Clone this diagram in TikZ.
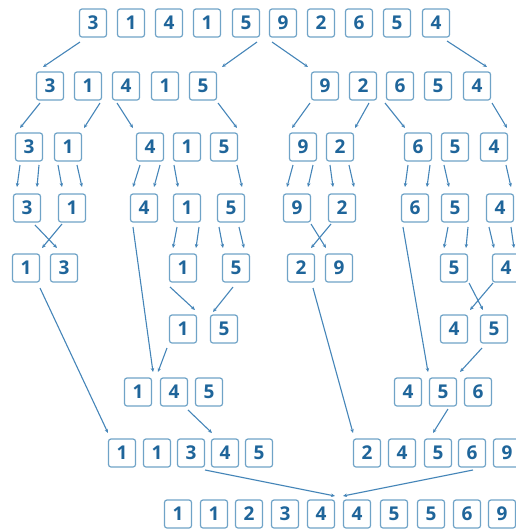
\documentclass[tikz,border=0pt]{standalone}
\usepackage{fontspec}
\setmainfont{Open Sans}[BoldFont={Open Sans Bold}]
\usetikzlibrary{arrows.meta}
\definecolor{txtc}{HTML}{1F659A}
\definecolor{boxc}{HTML}{6FA3C7}
\definecolor{linec}{HTML}{4585B8}
\newcommand{\cn}[6]{\draw[ar] ([shift={(#2,#3)}]#1.center) -- ([shift={(#5,#6)}]#4.center);}
\begin{document}
\begin{tikzpicture}[x=1pt,y=-1pt,
  bx/.style={draw=boxc, line width=1.2pt, rounded corners=2.5pt, fill=white,
    minimum width=27pt, minimum height=28pt, inner sep=0pt, text=txtc,
    font=\fontsize{19}{19}\selectfont\bfseries},
  ar/.style={draw=linec, line width=1.1pt, -{Stealth[length=4pt,width=3.5pt]}}]
\useasboundingbox (0,0) rectangle (516,531);
% row 1
\foreach \n/\x/\t in {1/93/3,2/131/1,3/169/4,4/207/1,5/246/5,6/283/9,7/321/2,8/359/6,9/397/5,10/436/4}
  \node[bx] (a\n) at (\x,23) {\t};
% row 2
\foreach \n/\x/\t in {1/50/3,2/88/1,3/126/4,4/165/1,5/203/5,6/325/9,7/363/2,8/400/6,9/438/5,10/477/4}
  \node[bx] (b\n) at (\x,86) {\t};
% row 3
\foreach \n/\x/\t in {1/29/3,2/68/1,3/150/4,4/187/1,5/224/5,6/303/9,7/340/2,8/418/6,9/455/5,10/494/4}
  \node[bx] (c\n) at (\x,147) {\t};
% row 4
\foreach \n/\x/\t in {1/27/3,2/72/1,3/144/4,4/187/1,5/231/5,6/297/9,7/342/2,8/415/6,9/455/5,10/500/4}
  \node[bx] (d\n) at (\x,208) {\t};
% row 5
\foreach \n/\x/\t in {1/26/1,2/64/3,3/183/1,4/236/5,5/301/2,6/339/9,7/454/5,8/506/4}
  \node[bx] (e\n) at (\x,268) {\t};
% row 6
\foreach \n/\x/\t in {1/183/1,2/224/5,3/454/4,4/494/5}
  \node[bx] (f\n) at (\x,329) {\t};
% row 7
\foreach \n/\x/\t in {1/138/1,2/174/4,3/209/5,4/408/4,5/443/5,6/478/6}
  \node[bx] (g\n) at (\x,392) {\t};
% row 8
\foreach \n/\x/\t in {1/122/1,2/157/1,3/191/3,4/225/4,5/259/5,6/367/2,7/402/4,8/438/5,9/472/6,10/507/9}
  \node[bx] (h\n) at (\x,453) {\t};
% row 9
\foreach \n/\x/\t in {1/178/1,2/214/1,3/249/2,4/285/3,5/321/4,6/357/4,7/394/5,8/431/5,9/467/6,10/502/9}
  \node[bx] (i\n) at (\x,514) {\t};
% row1 -> row2
\cn{a1}{-13}{19}{b1}{-7}{-19}
\cn{a5}{11}{19}{b5}{19}{-19}
\cn{a6}{-11}{19}{b6}{-17}{-19}
\cn{a10}{11}{18}{b10}{10}{-19}
% row2 -> row3
\cn{b1}{-10}{17}{c1}{-9}{-19}
\cn{b2}{12}{17}{c2}{16}{-19}
\cn{b3}{-9}{17}{c3}{-17}{-19}
\cn{b5}{15}{17}{c5}{13}{-19}
\cn{b6}{-15}{17}{c6}{-11}{-19}
\cn{b7}{6}{17}{c7}{15}{-19}
\cn{b8}{-15}{17}{c8}{-13}{-19}
\cn{b10}{15}{17}{c10}{13}{-19}
% row3 -> row4
\cn{c1}{-9}{18}{d1}{-10}{-21}
\cn{c1}{10}{18}{d1}{10}{-21}
\cn{c2}{-10}{18}{d2}{-10}{-21}
\cn{c2}{9}{18}{d2}{10}{-21}
\cn{c3}{-10}{18}{d3}{-11}{-21}
\cn{c3}{10}{18}{d3}{10}{-21}
\cn{c4}{-13}{18}{d4}{-9}{-21}
\cn{c5}{13}{18}{d5}{11}{-21}
\cn{c6}{-10}{18}{d6}{-10}{-21}
\cn{c6}{10}{18}{d6}{11}{-21}
\cn{c7}{-10}{18}{d7}{-9}{-21}
\cn{c7}{9}{18}{d7}{12}{-21}
\cn{c8}{-10}{18}{d8}{-10}{-21}
\cn{c8}{12}{18}{d8}{12}{-21}
\cn{c9}{-11}{18}{d9}{-6}{-21}
\cn{c10}{12}{18}{d10}{11}{-21}
% row4 -> row5
\cn{d1}{8}{17}{e2}{-7}{-20}
\cn{d2}{-10}{16}{e1}{16}{-20}
\cn{d4}{-10}{19}{e3}{-10}{-20}
\cn{d4}{12}{19}{e3}{13}{-20}
\cn{d5}{-12}{19}{e4}{-13}{-20}
\cn{d5}{8}{19}{e4}{8}{-20}
\cn{d6}{14}{16}{e6}{-13}{-20}
\cn{d7}{-11}{16}{e5}{10}{-20}
\cn{d9}{-7}{19}{e7}{-10}{-20}
\cn{d9}{13}{19}{e7}{12}{-20}
\cn{d10}{-11}{19}{e8}{-12}{-20}
\cn{d10}{11}{19}{e8}{8}{-20}
% row5 -> row6
\cn{e3}{-13}{19}{f1}{12}{-19}
\cn{e4}{-3}{19}{f2}{-11}{-17}
\cn{e7}{15}{15}{f4}{-11}{-19}
\cn{e8}{-13}{15}{f3}{16}{-19}
% long connectors
\cn{d3}{-11}{19}{g2}{-21}{-20}
\cn{f1}{-16}{19}{g2}{-16}{-20}
\cn{d8}{-12}{19}{g5}{-15}{-20}
\cn{f4}{-12}{19}{g6}{-18}{-20}
\cn{e1}{14}{20}{h1}{-14}{-20}
\cn{g2}{14}{18}{h4}{-13}{-20}
\cn{e5}{12}{20}{h6}{-14}{-20}
\cn{g5}{5}{17}{h8}{-5}{-20}
% to final row
\cn{h3}{14}{17}{i5}{14}{-18}
\cn{h9}{1}{17}{i6}{-14}{-18}
\end{tikzpicture}
\end{document}
